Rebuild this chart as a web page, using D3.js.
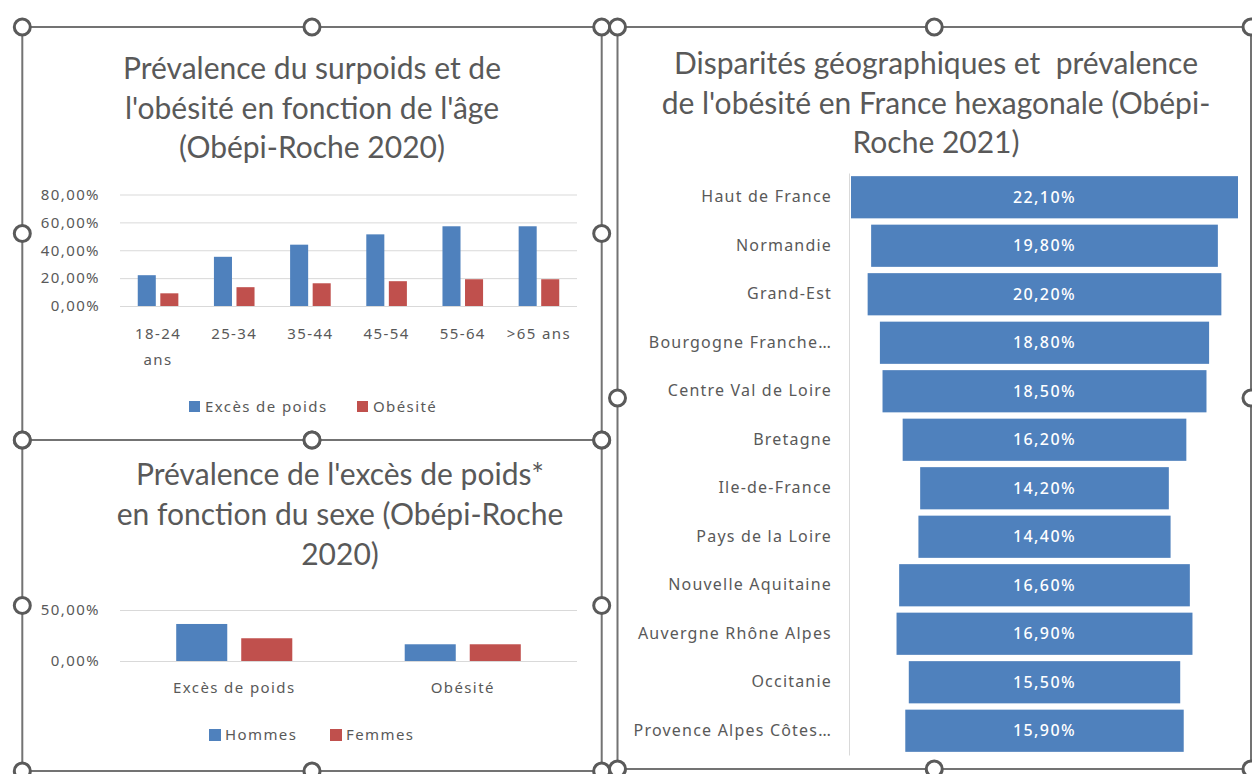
<!DOCTYPE html>
<html>
<head>
<meta charset="utf-8">
<script src="https://cdn.jsdelivr.net/npm/d3@7"></script>
<style>
  body { margin: 0; background: #fff; }
  text { font-family: "Noto Sans", sans-serif; fill: #595959; }
  .title { font-family: Lato, sans-serif; font-size: 30px; }
  .small { font-size: 15px; letter-spacing: 1.4px; }
</style>
</head>
<body>
<div id="chart"></div>
<script>
// --- data: age chart (Obépi-Roche 2020)
const ageCats = ["18-24 ans", "25-34", "35-44", "45-54", "55-64", ">65 ans"];
const excesPoidsAge = [22.1, 35.3, 44.0, 51.4, 57.2, 57.2];
const obesiteAge = [9.1, 13.5, 16.3, 17.8, 19.2, 19.2];
const ageTicks = [0, 20, 40, 60, 80];
const ageSeries = ["Excès de poids", "Obésité"];

// --- data: sex chart
const sexCats = ["Excès de poids", "Obésité"];
const hommes = [36.3, 16.4];
const femmes = [22.3, 16.4];
const sexTicks = [0, 50];
const sexSeries = ["Hommes", "Femmes"];

// --- data: regions funnel (Obépi-Roche 2021)
const regions = ["Haut de France", "Normandie", "Grand-Est", "Bourgogne Franche…",
  "Centre Val de Loire", "Bretagne", "Ile-de-France", "Pays de la Loire",
  "Nouvelle Aquitaine", "Auvergne Rhône Alpes", "Occitanie", "Provence Alpes Côtes…"];
const obesiteRegion = [22.1, 19.8, 20.2, 18.8, 18.5, 16.2, 14.2, 14.4, 16.6, 16.9, 15.5, 15.9];

const titleAge = ["Prévalence du surpoids et de", "l'obésité en fonction de l'âge", "(Obépi-Roche 2020)"];
const titleSex = ["Prévalence de l'excès de poids*", "en fonction du sexe (Obépi-Roche", "2020)"];
const titleRegion = ["Disparités géographiques et  prévalence", "de l'obésité en France hexagonale (Obépi-", "Roche 2021)"];

const blue = "#4f81bd", red = "#c0504d", grid = "#d9d9d9";
const fmt = d => d3.format(".2f")(d).replace(".", ",") + "%";

const width = 1252, height = 774;
const svg = d3.select("#chart").append("svg")
  .attr("width", width)
  .attr("height", height);

function drawTitle(lines, cx, y0, step) {
  svg.append("g").selectAll("text")
    .data(lines)
    .enter().append("text")
    .attr("class", "title")
    .attr("x", cx)
    .attr("y", (d, i) => y0 + i * step)
    .attr("text-anchor", "middle")
    .style("white-space", "pre")
    .text(d => d);
}

// wrap long tick labels onto several lines
function wrap(sel, maxW, lineH) {
  sel.each(function () {
    const t = d3.select(this);
    const words = t.text().split(" ");
    const y = +t.attr("y"), dy = t.attr("dy");
    t.text(null);
    let line = [], n = 0;
    let ts = t.append("tspan").attr("x", 0).attr("y", y).attr("dy", dy);
    for (const w of words) {
      line.push(w);
      ts.text(line.join(" "));
      if (ts.node().getComputedTextLength() > maxW && line.length > 1) {
        line.pop();
        ts.text(line.join(" "));
        line = [w];
        n++;
        ts = t.append("tspan").attr("x", 0).attr("y", y + n * lineH).attr("dy", dy).text(w);
      }
    }
  });
}

function styleAxis(g) {
  g.select(".domain").remove();
  g.selectAll(".tick line").attr("stroke", grid);
  g.selectAll(".tick text").attr("class", "small").attr("fill", "#595959");
}

// ================= top-left: age =================
drawTitle(titleAge, 312, 79, 39.5);

const x0Age = d3.scaleBand().domain(ageCats).range([120, 577]).paddingInner(0.467).paddingOuter(0.233);
const x1Age = d3.scaleBand().domain(ageSeries).range([0, x0Age.bandwidth()]).paddingInner(0.2);
const yAge = d3.scaleLinear().domain([0, 80]).range([306, 194.5]);

svg.append("g")
  .attr("transform", "translate(120,0)")
  .call(d3.axisLeft(yAge).tickValues(ageTicks).tickSize(-457).tickPadding(20).tickFormat(fmt))
  .call(styleAxis);

const ageRows = ageCats.map((c, i) => ({ cat: c, vals: [excesPoidsAge[i], obesiteAge[i]] }));
svg.append("g").selectAll("g")
  .data(ageRows)
  .enter().append("g")
  .attr("transform", d => `translate(${x0Age(d.cat)},0)`)
  .selectAll("rect")
  .data(d => d.vals.map((v, j) => ({ s: ageSeries[j], v: v })))
  .enter().append("rect")
  .attr("x", d => x1Age(d.s))
  .attr("y", d => yAge(d.v))
  .attr("width", x1Age.bandwidth())
  .attr("height", d => yAge(0) - yAge(d.v))
  .attr("fill", d => d.s === ageSeries[0] ? blue : red);

svg.append("g")
  .attr("transform", "translate(0,306)")
  .call(d3.axisBottom(x0Age).tickSize(0).tickPadding(22))
  .call(g => g.select(".domain").remove())
  .call(g => g.selectAll(".tick text").attr("class", "small").attr("fill", "#595959")
    .call(wrap, x0Age.step(), 26));

// legend
const legAge = svg.append("g").attr("transform", "translate(0,407)");
[{ x: 189, c: blue, t: ageSeries[0] }, { x: 357, c: red, t: ageSeries[1] }].forEach(d => {
  legAge.append("rect").attr("x", d.x).attr("y", -6).attr("width", 11).attr("height", 11).attr("fill", d.c);
  legAge.append("text").attr("class", "small").attr("x", d.x + 16).attr("y", 5).text(d.t);
});

// ================= bottom-left: sex =================
drawTitle(titleSex, 340, 485, 40);

const x0Sex = d3.scaleBand().domain(sexCats).range([120, 577]).paddingInner(0.492).paddingOuter(0.246);
const x1Sex = d3.scaleBand().domain(sexSeries).range([0, x0Sex.bandwidth()]).paddingInner(0.215);
const ySex = d3.scaleLinear().domain([0, 50]).range([661, 610]);

svg.append("g")
  .attr("transform", "translate(120,0)")
  .call(d3.axisLeft(ySex).tickValues(sexTicks).tickSize(-457).tickPadding(20).tickFormat(fmt))
  .call(styleAxis);

const sexRows = sexCats.map((c, i) => ({ cat: c, vals: [hommes[i], femmes[i]] }));
svg.append("g").selectAll("g")
  .data(sexRows)
  .enter().append("g")
  .attr("transform", d => `translate(${x0Sex(d.cat)},0)`)
  .selectAll("rect")
  .data(d => d.vals.map((v, j) => ({ s: sexSeries[j], v: v })))
  .enter().append("rect")
  .attr("x", d => x1Sex(d.s))
  .attr("y", d => ySex(d.v))
  .attr("width", x1Sex.bandwidth())
  .attr("height", d => ySex(0) - ySex(d.v))
  .attr("fill", d => d.s === sexSeries[0] ? blue : red);

svg.append("g")
  .attr("transform", "translate(0,661)")
  .call(d3.axisBottom(x0Sex).tickSize(0).tickPadding(21))
  .call(g => g.select(".domain").remove())
  .call(g => g.selectAll(".tick text").attr("class", "small").attr("fill", "#595959"));

const legSex = svg.append("g").attr("transform", "translate(0,735)");
[{ x: 209, c: blue, t: sexSeries[0] }, { x: 330, c: red, t: sexSeries[1] }].forEach(d => {
  legSex.append("rect").attr("x", d.x).attr("y", -6).attr("width", 12).attr("height", 12).attr("fill", d.c);
  legSex.append("text").attr("class", "small").attr("x", d.x + 16).attr("y", 5).text(d.t);
});

// ================= right: regions funnel =================
drawTitle(titleRegion, 936, 74, 39.5);

const yReg = d3.scaleBand().domain(regions).range([173, 755]).paddingInner(0.13).paddingOuter(0.065);
const wReg = d3.scaleLinear().domain([0, d3.max(obesiteRegion)]).range([0, 387]);
const cxReg = 1044.5;

svg.append("g")
  .attr("transform", "translate(849,0)")
  .call(d3.axisLeft(yReg).tickSize(0).tickSizeOuter(0).tickPadding(17))
  .call(g => g.select(".domain").attr("stroke", grid))
  .call(g => g.selectAll(".tick text").attr("class", "small")
    .style("font-size", "16px").style("letter-spacing", "1.2px").attr("fill", "#595959"));

const regRows = regions.map((r, i) => ({ r: r, v: obesiteRegion[i] }));
const barsReg = svg.append("g").selectAll("g")
  .data(regRows)
  .enter().append("g");

barsReg.append("rect")
  .attr("x", d => cxReg - wReg(d.v) / 2)
  .attr("y", d => yReg(d.r))
  .attr("width", d => wReg(d.v))
  .attr("height", yReg.bandwidth())
  .attr("fill", blue);

barsReg.append("text")
  .attr("class", "small")
  .attr("x", cxReg)
  .attr("y", d => yReg(d.r) + yReg.bandwidth() / 2)
  .attr("dy", "0.35em")
  .attr("text-anchor", "middle")
  .style("fill", "#fff")
  .style("font-size", "16px")
  .style("font-weight", "500")
  .text(d => fmt(d.v));

// ================= selection frames & handles =================
const frames = [
  { x1: 22.3, y1: 27, x2: 601.7, y2: 440 },
  { x1: 22.3, y1: 440, x2: 601.7, y2: 771 },
  { x1: 617.5, y1: 27, x2: 1251, y2: 769 }
];
const frameG = svg.append("g");
frames.forEach(f => {
  frameG.append("rect")
    .attr("x", f.x1).attr("y", f.y1)
    .attr("width", f.x2 - f.x1).attr("height", f.y2 - f.y1)
    .attr("fill", "none").attr("stroke", "#737373").attr("stroke-width", 2);
});
frames.forEach(f => {
  const mx = (f.x1 + f.x2) / 2, my = (f.y1 + f.y2) / 2;
  const pts = [[f.x1, f.y1], [mx, f.y1], [f.x2, f.y1], [f.x1, my], [f.x2, my], [f.x1, f.y2], [mx, f.y2], [f.x2, f.y2]];
  frameG.selectAll(null)
    .data(pts)
    .enter().append("circle")
    .attr("cx", d => d[0]).attr("cy", d => d[1])
    .attr("r", 8)
    .attr("fill", "#fff")
    .attr("stroke", "#5a5a5a")
    .attr("stroke-width", 3);
});
</script>
</body>
</html>
